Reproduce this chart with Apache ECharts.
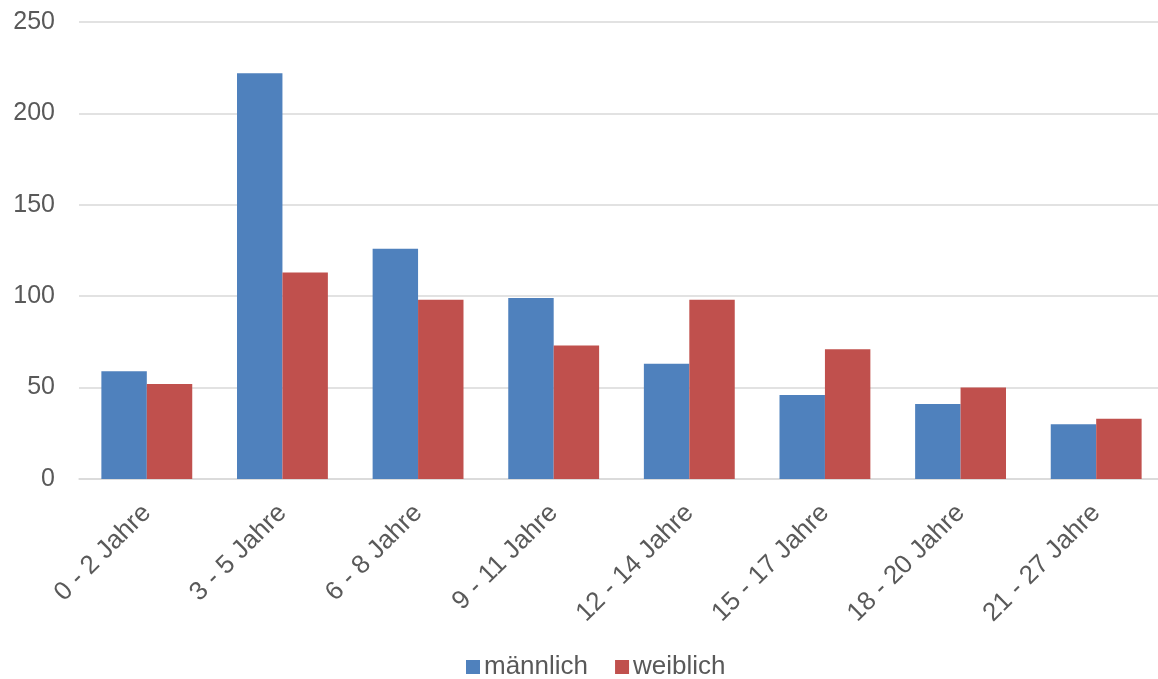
<!DOCTYPE html>
<html>
<head>
<meta charset="utf-8">
<script src="https://cdn.jsdelivr.net/npm/echarts@6/dist/echarts.min.js"></script>
<style>
  html, body { margin: 0; padding: 0; background: #fff; }
  #main { width: 1158px; height: 679px; }
</style>
</head>
<body>
<div id="main"></div>
<script>
const categories = ['0 - 2 Jahre', '3 - 5 Jahre', '6 - 8 Jahre', '9 - 11 Jahre', '12 - 14 Jahre', '15 - 17 Jahre', '18 - 20 Jahre', '21 - 27 Jahre'];
const maennlich = [59, 222, 126, 99, 63, 46, 41, 30];
const weiblich = [52, 113, 98, 73, 98, 71, 50, 33];

const chart = echarts.init(document.getElementById('main'));
const font = 'Liberation Sans, Arial, sans-serif';

chart.setOption({
  animation: false,
  color: ['#4F81BD', '#C0504D'],
  grid: { left: 79, right: -6, top: 22, bottom: 200, outerBoundsMode: 'none' },
  legend: {
    bottom: -6,
    left: 461,
    itemWidth: 14,
    itemHeight: 14,
    itemGap: 27,
    icon: 'rect',
    textStyle: { fontFamily: font, fontSize: 26, color: '#595959', padding: [0, 0, 0, -1] },
    data: ['männlich', 'weiblich']
  },
  xAxis: {
    type: 'category',
    data: categories,
    axisLine: { lineStyle: { color: '#D9D9D9', width: 1.5 } },
    axisTick: { show: false },
    axisLabel: {
      rotate: 45,
      interval: 0,
      margin: 30,
      fontFamily: font,
      fontSize: 26,
      color: '#595959'
    }
  },
  yAxis: {
    type: 'value',
    min: 0,
    max: 250,
    interval: 50,
    axisLine: { show: false },
    axisTick: { show: false },
    splitLine: { lineStyle: { color: '#D9D9D9', width: 1.5 } },
    axisLabel: { fontFamily: font, fontSize: 25, color: '#595959', margin: 24 }
  },
  series: [
    { name: 'männlich', type: 'bar', data: maennlich, barGap: '0%', barCategoryGap: '33%' },
    { name: 'weiblich', type: 'bar', data: weiblich, barGap: '0%', barCategoryGap: '33%' }
  ]
});
</script>
</body>
</html>
